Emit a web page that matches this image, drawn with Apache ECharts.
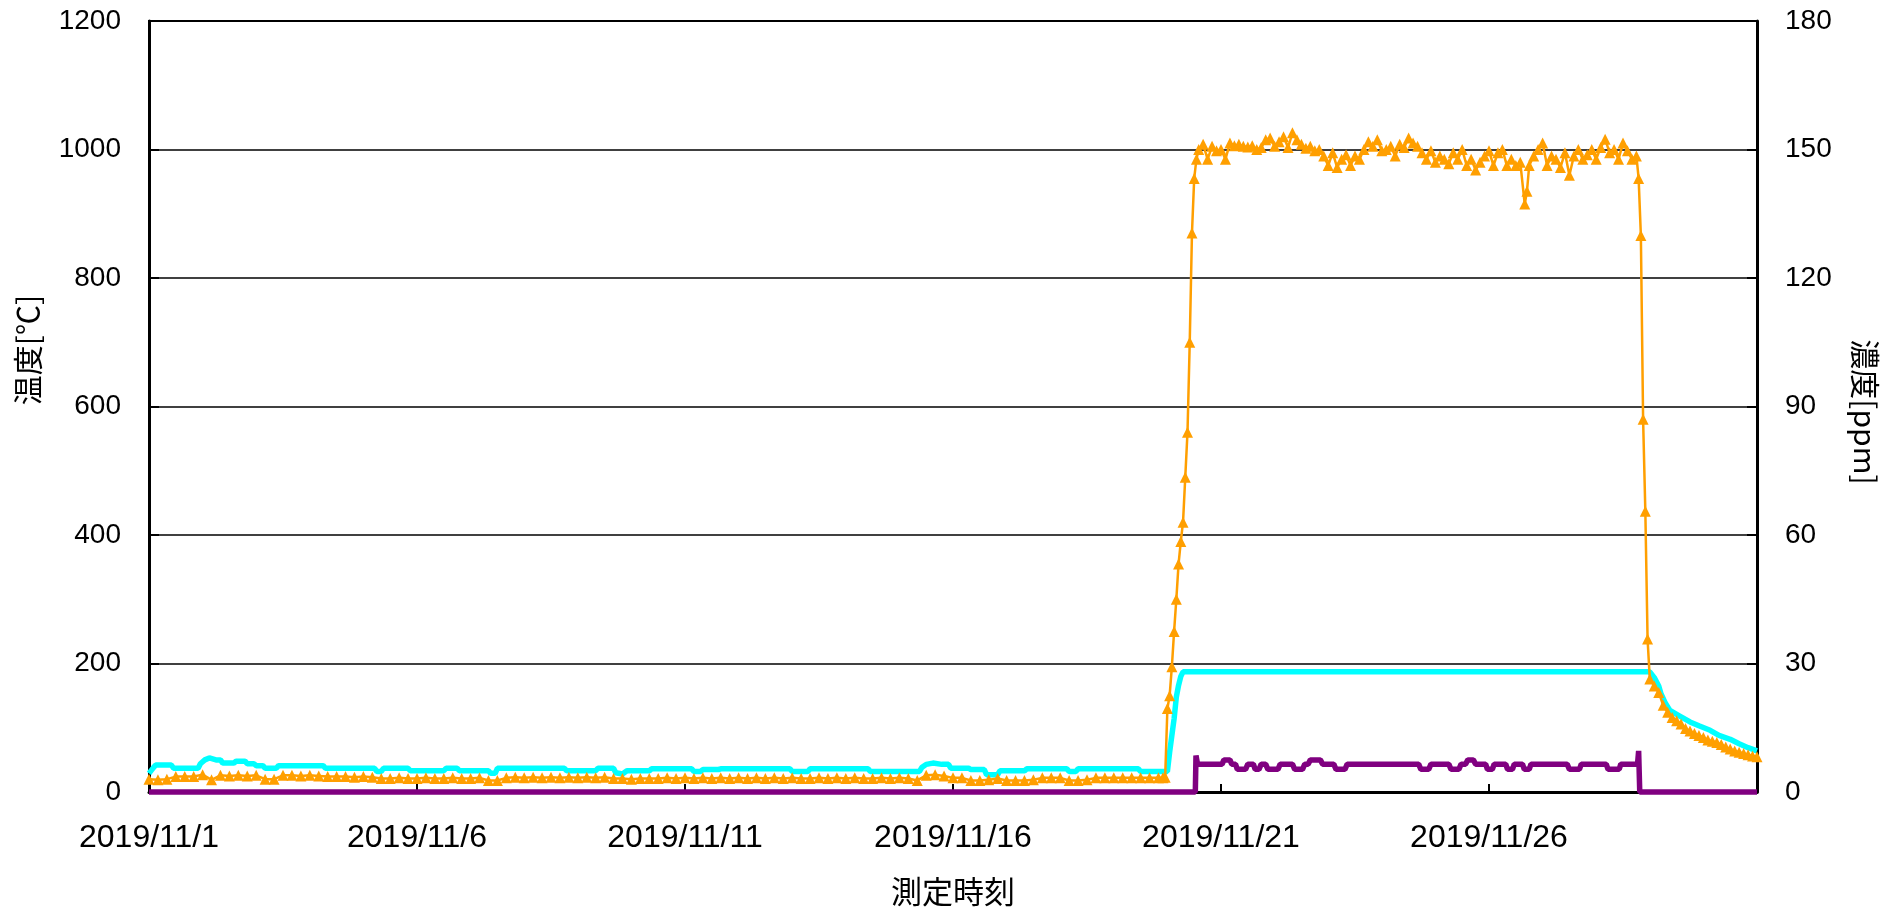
<!DOCTYPE html>
<html>
<head>
<meta charset="utf-8">
<script src="https://cdn.jsdelivr.net/npm/echarts@6/dist/echarts.min.js"></script>
<style>html,body{margin:0;padding:0;background:#fff;}#chart{width:1897px;height:912px;}</style>
</head>
<body>
<div id="chart"></div>
<script>
// Time is given in hours since 2019/11/1 00:00
const xTickLabels = ['2019/11/1','2019/11/6','2019/11/11','2019/11/16','2019/11/21','2019/11/26',''];
const leftTicks = [0,200,400,600,800,1000,1200];
const rightTicks = [0,30,60,90,120,150,180];

// Orange series: temperature (left axis)
const orangeTime = [
0,4,8,12,16,20,24,28,32,36,40,44,48,52,56,60,64,68,72,76,80,84,88,92,96,100,104,108,112,116,120,124,128,132,136,140,144,148,152,156,160,164,168,172,176,180,184,188,192,196,200,204,208,212,216,220,224,228,232,236,240,244,248,252,256,260,264,268,272,276,280,284,288,292,296,300,304,308,312,316,320,324,328,332,336,340,344,348,352,356,360,364,368,372,376,380,384,388,392,396,400,404,408,412,416,420,424,428,432,436,440,444,448,452,
454,455,456,457,458,459,460,461,462,463,464,465,466,467,468,469,470,
472,474,476,478,480,482,484,486,488,490,492,494,496,498,500,502,504,506,508,510,512,514,516,518,520,522,524,526,528,530,532,534,536,538,540,542,544,546,548,550,552,554,556,558,560,562,564,566,568,570,572,574,576,578,580,582,584,586,588,590,592,594,596,598,600,602,604,606,608,610,612,614,616,617,618,620,622,624,626,628,630,632,634,636,638,640,642,644,646,648,650,652,654,656,658,660,662,664,666,
667,668,669,670,671,
672,674,676,678,680,682,684,686,688,690,692,694,696,698,700,702,704,706,708,710,712,714,716,718,720];
const orangeTemp = [
20,19,20,24,24,24,27,19,26,25,26,25,26,20,20,26,26,25,26,25,24,24,24,23,24,23,21,21,22,21,21,22,21,21,22,21,21,22,18,18,22,23,22,23,22,23,22,23,22,23,22,23,21,21,20,21,21,21,22,21,22,21,22,21,22,21,22,21,22,21,22,21,22,21,21,22,21,22,21,22,21,21,22,21,22,21,18,26,27,25,22,22,18,18,19,21,18,18,18,19,22,22,22,18,18,19,22,22,22,22,22,22,22,22,
22,23,130,150,195,250,300,355,390,420,490,560,700,870,955,985,1000,
1008,985,1005,998,1000,985,1010,1006,1008,1005,1004,1006,1000,1003,1015,1018,1005,1012,1020,1003,1026,1015,1008,1002,1005,998,1000,990,975,995,972,985,992,975,990,985,1000,1012,1005,1015,998,1000,1005,990,1008,1003,1018,1010,1005,995,985,998,980,990,985,978,995,985,1000,975,985,968,980,990,998,975,995,1000,975,985,975,980,915,935,975,990,1000,1010,975,990,985,972,995,960,990,1000,985,992,1000,985,1003,1016,995,1000,985,1010,998,985,990,
955,866,580,437,238,
176,165,155,135,124,116,111,106,99,95,91,88,85,81,79,77,74,70,67,64,62,60,58,56,55];

// Cyan series (left axis)
const cyanTime = [0,2,3,10,11,22,23,25,27,30,32,33,38,39,43,44,47,48,51,52,57,58,78,79,101,102,104,105,116,117,132,133,138,139,152,153,155,156,186,187,200,201,208,209,212,214,224,225,243,244,247,248,255,256,287,288,295,296,322,323,345,346,348,351,355,358,359,367,368,374,375,380,381,392,393,411,412,415,416,443,444,456,457,458,459,460,461,462,463,672,674,676,677,679,681,685,690,694,699,703,708,712,716,720];
const cyanTemp = [29,38,42,42,37,37,44,50,53,50,50,45,45,48,48,44,44,41,41,37,37,41,41,37,37,32,32,37,37,33,33,37,37,33,33,29,29,37,37,33,33,37,37,30,28,33,33,36,36,32,32,35,35,36,36,32,32,36,36,32,32,38,43,45,43,43,37,37,35,35,27,27,33,33,36,36,32,32,36,36,32,32,62,88,114,148,166,180,187,187,178,165,153,138,127,119,109,103,96,88,82,75,69,64];

// Purple series: concentration ppm (right axis)
const purpleTime = [0,468.5,468.8,469.5,480.5,481.3,484,484.8,486.5,487.3,491,492,494.5,495.3,497,498,500,501,505.5,506.5,512,513,516.5,517.5,519,520,524.5,525.5,530.5,531.5,535.5,536.5,568.5,569.5,573,574,582,583,586.5,587.5,589.5,590.5,593,594,598.5,599.3,601.5,602.3,607.5,608.3,610.5,611.3,615,615.8,618,618.8,635,636,640.5,641.3,652.5,653.3,658.3,659,666.5,667,667.5,720];
const purplePpm = [0,0,8.5,6.5,6.5,7.5,7.5,6.5,6.5,5.3,5.3,6.5,6.5,5.3,5.3,6.5,6.5,5.3,5.3,6.5,6.5,5.3,5.3,6.5,6.5,7.5,7.5,6.5,6.5,5.3,5.3,6.5,6.5,5.3,5.3,6.5,6.5,5.3,5.3,6.5,6.5,7.5,7.5,6.5,6.5,5.3,5.3,6.5,6.5,5.3,5.3,6.5,6.5,5.3,5.3,6.5,6.5,5.3,5.3,6.5,6.5,5.3,5.3,6.5,6.5,9.6,0,0];

function pairs(t, v) { return t.map((x, i) => [x, v[i]]); }

const NUM_FONT = '"Liberation Sans", Arial, sans-serif';
const JP_FONT = '"Noto Sans CJK JP", sans-serif';

const chart = echarts.init(document.getElementById('chart'));
chart.setOption({
  animation: false,
  backgroundColor: '#ffffff',
  grid: { left: 149, right: 140, top: 21, bottom: 115, show: true, borderColor: '#000', borderWidth: 2, backgroundColor: 'transparent' },
  xAxis: {
    type: 'value', min: 0, max: 720, interval: 120,
    name: '測定時刻', nameLocation: 'middle', nameGap: 84,
    nameTextStyle: { fontFamily: JP_FONT, fontSize: 31, color: '#000' },
    axisLine: { show: true, onZero: false, lineStyle: { color: '#000', width: 3 } },
    axisTick: { show: true, inside: true, length: 8, lineStyle: { color: '#000', width: 2 } },
    axisLabel: {
      margin: 30, color: '#000', fontFamily: NUM_FONT, fontSize: 32, showMaxLabel: true, showMinLabel: true, hideOverlap: false,
      formatter: function (v) { const i = Math.round(v / 120); return xTickLabels[i] || ''; }
    },
    splitLine: { show: false }
  },
  yAxis: [
    {
      type: 'value', min: leftTicks[0], max: leftTicks[leftTicks.length - 1], interval: 200, position: 'left',
      axisLine: { show: true, lineStyle: { color: '#000', width: 3 } },
      axisTick: { show: true, inside: true, length: 10, lineStyle: { color: '#000', width: 2 } },
      axisLabel: { margin: 28, color: '#000', fontFamily: NUM_FONT, fontSize: 28, formatter: function (v) { return String(v); } },
      splitLine: { show: true, lineStyle: { color: '#000', width: 1.5 } }
    },
    {
      type: 'value', min: rightTicks[0], max: rightTicks[rightTicks.length - 1], interval: 30, position: 'right',
      axisLine: { show: true, lineStyle: { color: '#000', width: 3 } },
      axisTick: { show: true, inside: true, length: 10, lineStyle: { color: '#000', width: 2 } },
      axisLabel: { margin: 28, color: '#000', fontFamily: NUM_FONT, fontSize: 28, formatter: function (v) { return String(v); } },
      splitLine: { show: false }
    }
  ],
  graphic: [
    { type: 'text', x: 28, y: 350, rotation: Math.PI / 2,
      style: { text: '温度[℃]', font: '30px "Noto Sans CJK JP"', fill: '#000', align: 'center', verticalAlign: 'middle' } },
    { type: 'text', x: 1865, y: 412, rotation: -Math.PI / 2,
      style: { text: '濃度[ppm]', font: '30px "Noto Sans CJK JP"', fill: '#000', align: 'center', verticalAlign: 'middle' } }
  ],
  series: [
    {
      type: 'line', name: 'cyan', yAxisIndex: 0, data: pairs(cyanTime, cyanTemp),
      showSymbol: false, symbol: 'none', clip: false,
      lineStyle: { color: '#00FFFF', width: 5.5 }, itemStyle: { color: '#00FFFF' }, z: 3
    },
    {
      type: 'line', name: 'purple', yAxisIndex: 1, data: pairs(purpleTime, purplePpm),
      showSymbol: false, symbol: 'none', clip: false,
      lineStyle: { color: '#800080', width: 5.5 }, itemStyle: { color: '#800080' }, z: 4
    },
    {
      type: 'line', name: 'orange', yAxisIndex: 0, data: pairs(orangeTime, orangeTemp),
      symbol: 'triangle', symbolSize: 11, showSymbol: true, showAllSymbol: true, clip: false,
      lineStyle: { color: '#FF9F00', width: 2.5 }, itemStyle: { color: '#FF9F00' }, z: 5
    }
  ]
});
</script>
</body>
</html>
